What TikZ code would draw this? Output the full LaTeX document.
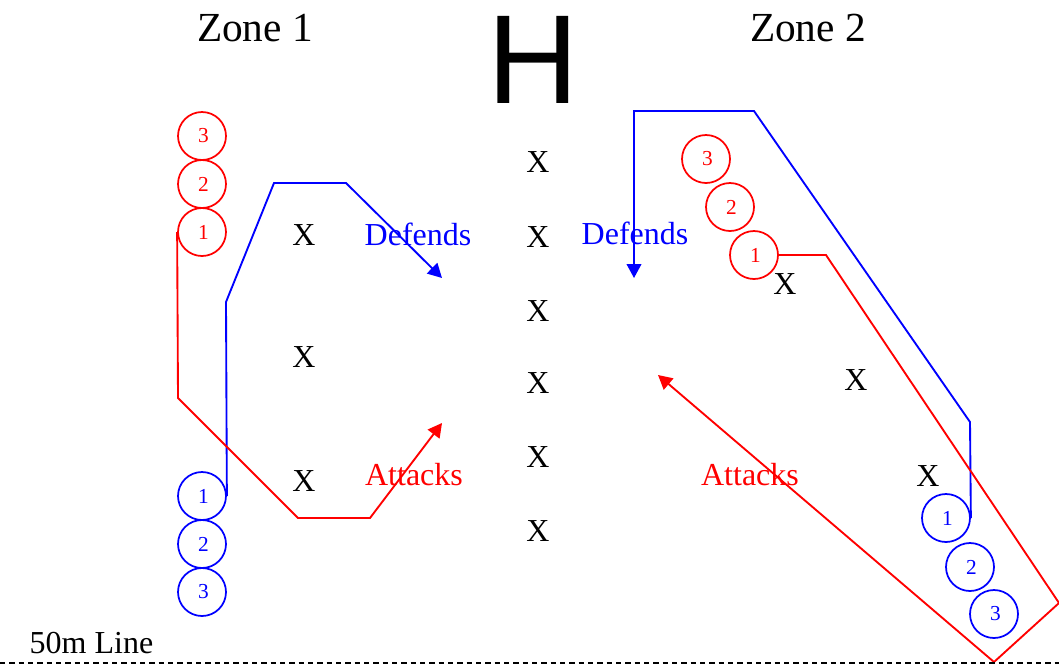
\documentclass[tikz,border=0pt]{standalone}
\usepackage{fontspec}
\setmainfont{Liberation Serif}
\newfontfamily\goalfont{Liberation Sans}
\usepackage{tikz}
\usetikzlibrary{arrows.meta}
\tikzset{
    player/.style={circle,draw,line width=1.3pt,minimum size=36pt,inner sep=0pt,
        font=\fontsize{16}{16}\selectfont},
    run/.style={line width=1.4pt,-{Triangle[length=10.5pt,width=11pt]}},
    cross/.style={anchor=base,font=\fontsize{24}{24}\selectfont},
    call/.style={anchor=base,font=\fontsize{24}{24}\selectfont},
    zone/.style={anchor=base,font=\fontsize{31}{31}\selectfont}
}
\newcommand{\player}[4]{
    \node[player,draw=#2,text=#2] (#1) at (#3) {\raisebox{-1pt}{\hspace{2pt}#4}};
}
\newcommand{\defender}[2]{
    \node[cross] (#1) at (#2) {X};
}

\begin{document}
\begin{tikzpicture}[x=0.75pt,y=-0.75pt]
        \useasboundingbox (0,0) rectangle (1059,665);
        % headings
        \node[zone] (zone1) at (255,41) {Zone 1};
        \node[zone] (zone2) at (808,41) {Zone 2};
        \node[anchor=base,font=\goalfont\fontsize{95}{95}\selectfont] (goal) at (533,103) {H};
        % defenders
        \defender{xa}{304,245}
        \defender{xb}{304,367}
        \defender{xc}{304,491}
        \defender{xd}{538,172}
        \defender{xe}{538,247}
        \defender{xf}{538,321}
        \defender{xg}{538,393}
        \defender{xh}{538,467}
        \defender{xi}{538,541}
        \defender{xj}{785,294}
        \defender{xk}{856,390}
        \defender{xl}{928,486}
        % zone 1 players
        \player{ra3}{red}{202,136}{3}
        \player{ra2}{red}{202,184}{2}
        \player{ra1}{red}{202,232}{1}
        \player{ba1}{blue}{202,496}{1}
        \player{ba2}{blue}{202,544}{2}
        \player{ba3}{blue}{202,592}{3}
        % zone 2 players
        \player{rb3}{red}{706,159}{3}
        \player{rb2}{red}{730,207}{2}
        \player{rb1}{red}{754,255}{1}
        \player{bb1}{blue}{946,518}{1}
        \player{bb2}{blue}{970,567}{2}
        \player{bb3}{blue}{994,614}{3}
        % arrow ends
        \coordinate (defA) at (442,278);
        \coordinate (atkA) at (442,423);
        \coordinate (defB) at (634,278);
        \coordinate (atkB) at (658,375);
        % runs
        \draw[run,blue] (ba1.east) -- (226,302) -- (274,183) -- (346,183) -- (defA);
        \draw[run,red] (ra1.west) -- (178,398) -- (298,518) -- (370,518) -- (atkA);
        \draw[run,blue] (bb1.east) -- (970,422) -- (754,111) -- (634,111) -- (defB);
        \draw[run,red] (rb1.east) -- (826,255) -- (1059,603) -- (994,662) -- (atkB);
        % labels
        \node[call,text=blue] (defL1) at (418,245) {Defends};
        \node[call,text=blue] (defL2) at (635,244) {Defends};
        \node[call,text=red] (atkL1) at (414,485) {Attacks};
        \node[call,text=red] (atkL2) at (750,485) {Attacks};
        % halfway line
        \node[call,anchor=base west] (line) at (25,653) {50m Line};
        \coordinate (lineL) at (0,663);
        \coordinate (lineR) at (1059,663);
        \draw[line width=2.1pt,dash pattern=on 4pt off 3pt] (lineL) -- (lineR);
    \end{tikzpicture}
\end{document}
